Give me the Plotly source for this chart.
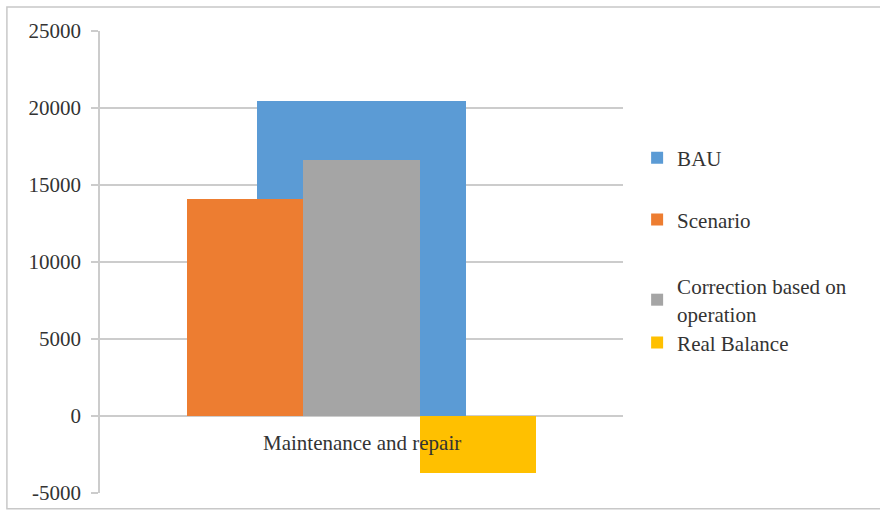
import plotly.graph_objects as go

# Cost category and series values
category = ["Maintenance and repair"]
series_names = ["BAU", "Scenario", "Correction based on<br>operation", "Real Balance"]
bau = [20450]
scenario = [14100]
correction = [16600]
real_balance = [-3700]

y_ticks = [-5000, 0, 5000, 10000, 15000, 20000, 25000]

colors = ["#5B9BD5", "#ED7D31", "#A5A5A5", "#FFC000"]
font_family = "Liberation Serif"
text_color = "#333333"
grid_color = "#CCCCCC"

fig = go.Figure()

# BAU is a wide bar behind; the other three sit side by side in front of it
fig.add_trace(go.Bar(x=category, y=bau, name=series_names[0],
                     marker=dict(color=colors[0], line=dict(width=0)),
                     width=0.40, offset=-0.20, legend="legend"))
group_w = 0.2229
fig.add_trace(go.Bar(x=category, y=scenario, name=series_names[1],
                     marker=dict(color=colors[1], line=dict(width=0)),
                     width=group_w, offset=-1.5 * group_w, legend="legend2"))
fig.add_trace(go.Bar(x=category, y=correction, name=series_names[2],
                     marker=dict(color=colors[2], line=dict(width=0)),
                     width=group_w, offset=-0.5 * group_w, legend="legend3"))
fig.add_trace(go.Bar(x=category, y=real_balance, name=series_names[3],
                     marker=dict(color=colors[3], line=dict(width=0)),
                     width=group_w, offset=0.5 * group_w, legend="legend4"))

legend_font = dict(family=font_family, size=21, color=text_color)
legend_common = dict(x=1.027, xanchor="left", yanchor="middle",
                     font=legend_font, bgcolor="rgba(0,0,0,0)",
                     itemclick=False, itemdoubleclick=False)

fig.update_layout(
    width=880, height=513,
    margin=dict(l=100, r=257, t=31, b=20, autoexpand=False),
    paper_bgcolor="white", plot_bgcolor="white",
    barmode="overlay",
    bargap=0,
    font=dict(family=font_family, color=text_color),
    legend=dict(y=0.725, **legend_common),
    legend2=dict(y=0.591, **legend_common),
    legend3=dict(y=0.418, **legend_common),
    legend4=dict(y=0.325, **legend_common),
    xaxis=dict(showticklabels=False, showgrid=False, zeroline=False,
               showline=False, ticks=""),
    yaxis=dict(
        range=[-5000, 25000],
        tickvals=y_ticks,
        ticktext=[str(v) for v in y_ticks],
        showgrid=True, gridcolor=grid_color, gridwidth=1.5,
        zeroline=True, zerolinecolor=grid_color, zerolinewidth=1.5,
        showline=True, linecolor=grid_color, linewidth=1.5,
        ticks="outside", ticklen=7, tickcolor=grid_color, tickwidth=1.5,
        tickfont=dict(family=font_family, size=21, color=text_color),
        ticklabelstandoff=6,
    ),
    showlegend=True,
)

# Category label sits just under the zero line, above the bars
fig.add_annotation(x=category[0], y=0, xref="x", yref="y",
                   text=category[0], showarrow=False,
                   yanchor="middle", yshift=-27,
                   font=dict(family=font_family, size=21, color=text_color))

# Chart area border
fig.add_shape(type="rect", xref="paper", yref="paper",
              x0=-0.178, x1=1.6, y0=-0.034, y1=1.052,
              line=dict(color="#C8C8C8", width=1.5), layer="below")

fig.write_html("out.html")
